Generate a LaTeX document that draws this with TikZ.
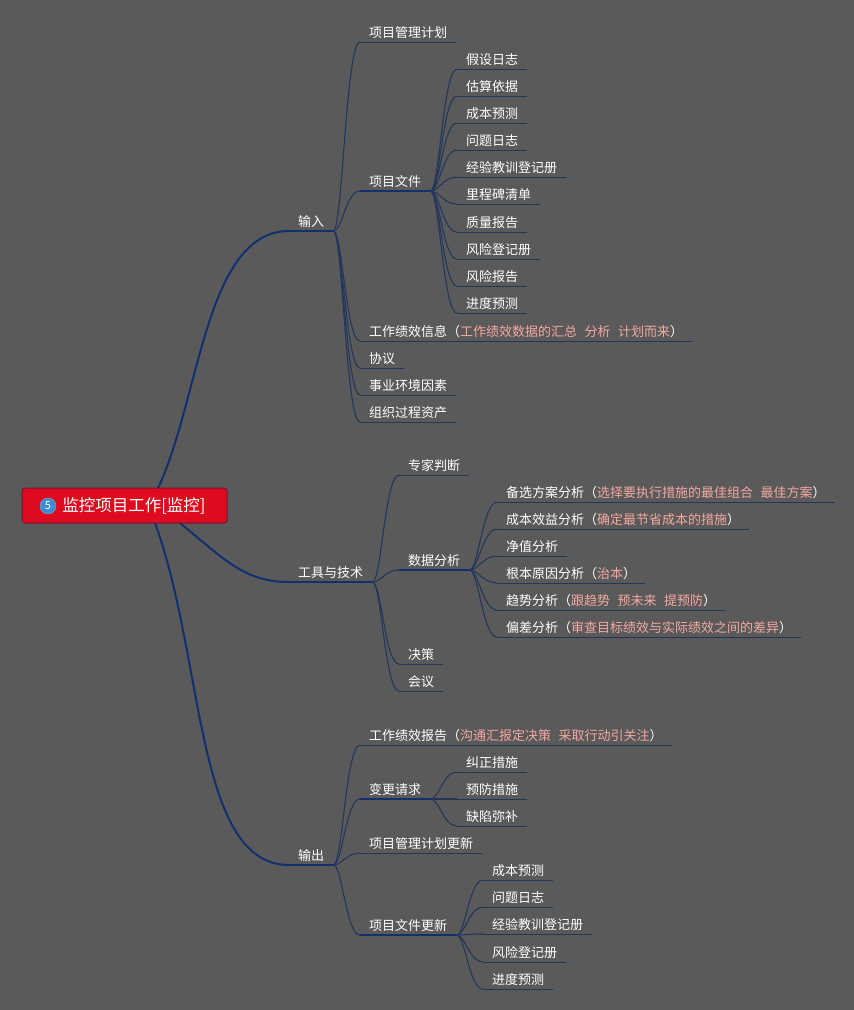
\documentclass[tikz,border=0pt]{standalone}
\usepackage{fontspec}
\setmainfont{Noto Sans CJK SC}
\usetikzlibrary{positioning,calc}
\definecolor{slate}{HTML}{5A5A5A}
\definecolor{navy}{HTML}{12306E}
\definecolor{dusk}{HTML}{24365A}
\definecolor{rootred}{HTML}{DE0A1E}
\definecolor{rootedge}{HTML}{7A1236}
\definecolor{badge}{HTML}{3C8CCF}
\definecolor{blush}{HTML}{F4A8A2}
\newcommand{\remark}[1]{{\color{blush}#1}}
\newcommand{\gapsp}{\hspace{7.5pt}}

\begin{document}
\begin{tikzpicture}[
      x=1pt, y=-1pt,
      topic/.style={anchor=south west, text=white, inner xsep=9pt, inner ysep=2pt,
                    text height=11pt, text depth=2pt, font=\fontsize{13}{15}\selectfont},
      leaf/.style={topic, append after command={(\tikzlastnode.south west) edge[leafline] (\tikzlastnode.south east)}},
      hub/.style={topic, append after command={(\tikzlastnode.south west) edge[hubline] (\tikzlastnode.south east)}},
      branch/.style={topic, append after command={(\tikzlastnode.south west) edge[branchline] (\tikzlastnode.south east)}},
      leafline/.style={draw=dusk, line width=1pt},
      hubline/.style={draw=navy, line width=2.6pt},
      branchline/.style={draw=navy, line width=2pt},
      link/.style={draw=dusk, line width=1.1pt},
      mainlink/.style={draw=navy, line width=2pt},
      rootbox/.style={rectangle, rounded corners=3pt, draw=rootedge, fill=rootred, line width=1pt,
                      text=white, minimum width=205pt, minimum height=35pt, inner sep=0pt,
                      font=\fontsize{16.5}{18}\selectfont},
      iconbadge/.style={circle, fill=badge, draw=badge!70!white, text=white, minimum size=16pt,
                        inner sep=0pt, font=\fontsize{11}{11}\selectfont}
    ]
      \useasboundingbox[fill=slate] (0,0) rectangle (854,1010);

      \node[rootbox] (root) at (124.5,505.5) {\hspace{19pt}监控项目工作[监控]};
      \node[iconbadge] (num) at (48,506) {5};
      \coordinate (rootup) at (158,488);
      \coordinate (rootmid) at (180,523);
      \coordinate (rootdown) at (155,523);

      % inputs
      \node[branch] (input) at (289,231) {输入\hspace{4pt}};
      \node[leaf] (plan) at (360,42) {项目管理计划};
      \node[branch] (docs) at (360,191) {项目文件};
      \node[leaf] (info) at (360,341) {工作绩效信息（\remark{工作绩效数据的汇总\gapsp 分析\gapsp 计划而来}）};
      \node[leaf] (deal) at (360,368) {协议};
      \node[leaf] (env) at (360,395) {事业环境因素};
      \node[leaf] (assets) at (360,422) {组织过程资产};
      \node[leaf] (d1) at (457,69) {假设日志};
      \node[leaf] (d2) at (457,96) {估算依据};
      \node[leaf] (d3) at (457,123) {成本预测};
      \node[leaf] (d4) at (457,150) {问题日志};
      \node[leaf] (d5) at (457,177) {经验教训登记册};
      \node[leaf] (d6) at (457,204) {里程碑清单};
      \node[leaf] (d7) at (457,232) {质量报告};
      \node[leaf] (d8) at (457,259) {风险登记册};
      \node[leaf] (d9) at (457,286) {风险报告};
      \node[leaf] (d10) at (457,313) {进度预测};

      % tools
      \node[branch] (tools) at (289,582) {工具与技术\hspace{3pt}};
      \node[leaf] (expert) at (399,475) {专家判断};
      \node[hub] (data) at (399,570) {数据分析};
      \node[leaf] (decide) at (399,664) {决策};
      \node[leaf] (meet) at (399,691) {会议};
      \node[leaf] (a1) at (497,502) {备选方案分析（\remark{选择要执行措施的最佳组合\gapsp 最佳方案}）};
      \node[leaf] (a2) at (497,529) {成本效益分析（\remark{确定最节省成本的措施}）};
      \node[leaf] (a3) at (497,556) {净值分析};
      \node[leaf] (a4) at (497,583) {根本原因分析（\remark{治本}）};
      \node[leaf] (a5) at (497,610) {趋势分析（\remark{跟趋势\gapsp 预未来\gapsp 提预防}）};
      \node[leaf] (a6) at (497,637) {偏差分析（\remark{审查目标绩效与实际绩效之间的差异}）};

      % outputs
      \node[branch] (output) at (289,865) {输出\hspace{4pt}};
      \node[leaf] (report) at (360,745) {工作绩效报告（\remark{沟通汇报定决策\gapsp 采取行动引关注}）};
      \node[hub] (change) at (360,799) {变更请求};
      \node[leaf] (planup) at (360,853) {项目管理计划更新};
      \node[hub] (docsup) at (360,935) {项目文件更新};
      \node[leaf] (c1) at (457,772) {纠正措施};
      \node[leaf] (c2) at (457,799) {预防措施};
      \node[leaf] (c3) at (457,826) {缺陷弥补};
      \node[leaf] (u1) at (483,880) {成本预测};
      \node[leaf] (u2) at (483,907) {问题日志};
      \node[leaf] (u3) at (483,934) {经验教训登记册};
      \node[leaf] (u4) at (483,962) {风险登记册};
      \node[leaf] (u5) at (483,989) {进度预测};

      \draw[mainlink] (rootup) .. controls (200,400) and (205,231) .. (input.south west);
      \draw[mainlink] (rootmid) .. controls (225,560) and (245,582) .. (tools.south west);
      \draw[mainlink] (rootdown) .. controls (205,660) and (195,865) .. (output.south west);

      \foreach \from/\to in {input/plan, input/docs, input/info, input/deal, input/env, input/assets,
                             docs/d1, docs/d2, docs/d3, docs/d4, docs/d5, docs/d6, docs/d7, docs/d8, docs/d9, docs/d10,
                             tools/expert, tools/data, tools/decide, tools/meet,
                             data/a1, data/a2, data/a3, data/a4, data/a5, data/a6,
                             output/report, output/change, output/planup, output/docsup,
                             change/c1, change/c2, change/c3,
                             docsup/u1, docsup/u2, docsup/u3, docsup/u4, docsup/u5}
        \draw[link] (\from.south east) .. controls +(9,0) and +(-14,0) .. (\to.south west);
    \end{tikzpicture}
\end{document}
